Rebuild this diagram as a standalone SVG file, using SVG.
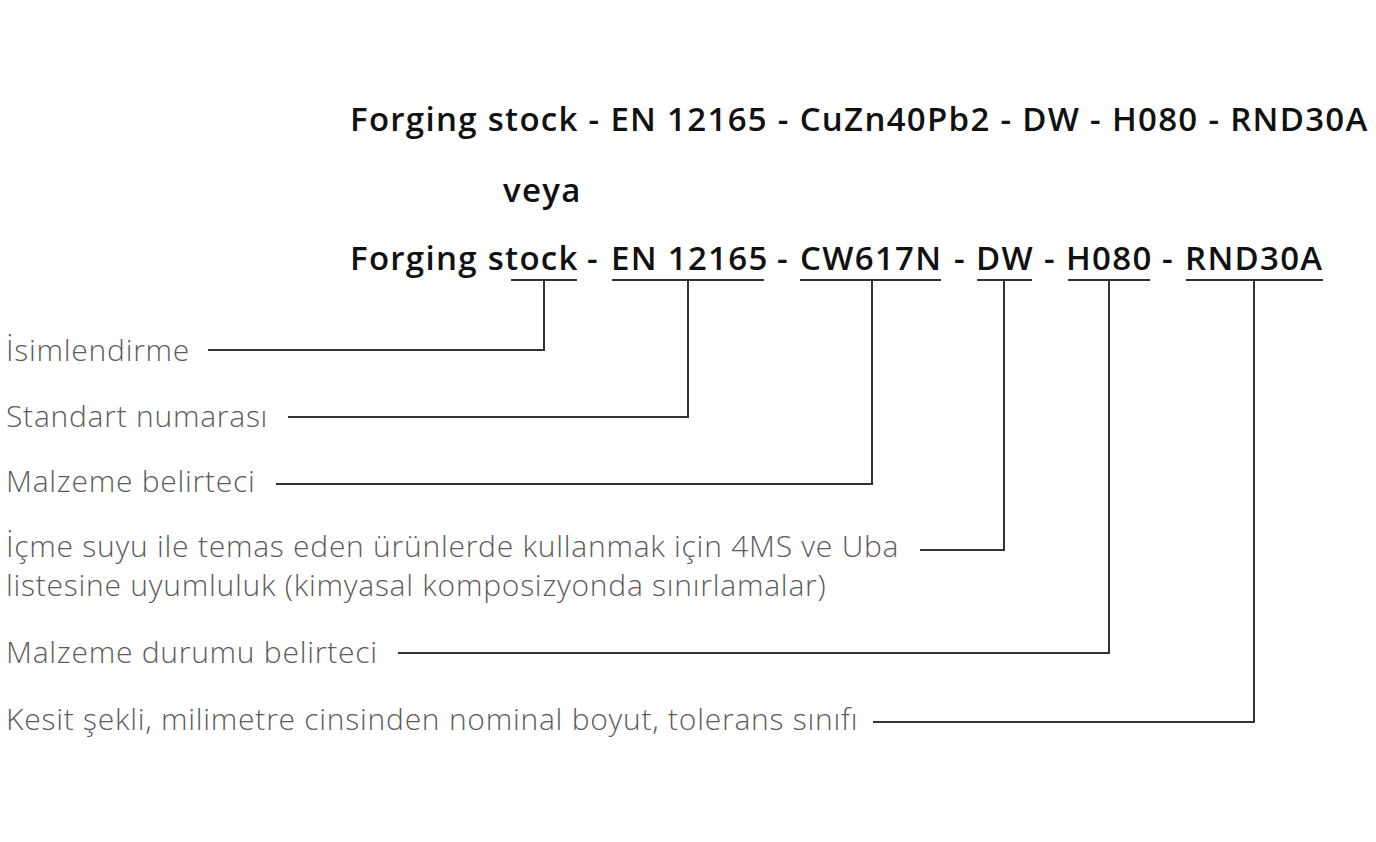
<svg xmlns="http://www.w3.org/2000/svg" width="1376" height="842" viewBox="0 0 1376 842">
<style>
.h{font-family:"Open Sans","Noto Sans",sans-serif;font-weight:600;font-size:33px;letter-spacing:1.3px;fill:#111}
.l{font-family:"Open Sans","Noto Sans",sans-serif;font-weight:300;font-size:30px;letter-spacing:0.75px;fill:#5c5c5c}
.c{fill:none;stroke:#333;stroke-width:2}
</style>
<rect width="1376" height="842" fill="#fff"/>
<g id="title">
<text class="h" x="350" y="131">Forging stock - EN 12165 - CuZn40Pb2 - DW - H080 - RND30A</text>
<text class="h" x="503" y="202">veya</text>
<text class="h" y="270"><tspan x="350">Forging stock</tspan><tspan x="587">-</tspan><tspan x="611">EN 12165</tspan><tspan x="777">-</tspan><tspan x="800">CW617N</tspan><tspan x="954">-</tspan><tspan x="976">DW</tspan><tspan x="1044">-</tspan><tspan x="1066">H080</tspan><tspan x="1162">-</tspan><tspan x="1185">RND30A</tspan></text>
</g>
<g id="label-isim"><text class="l" x="6" y="361">İsimlendirme</text></g>
<g id="label-standart"><text class="l" x="6" y="427">Standart numarası</text></g>
<g id="label-malzeme"><text class="l" x="6" y="492">Malzeme belirteci</text></g>
<g id="label-icme"><text class="l" x="6" y="557">İçme suyu ile temas eden ürünlerde kullanmak için 4MS ve Uba</text><text class="l" x="6" y="596">listesine uyumluluk (kimyasal komposizyonda sınırlamalar)</text></g>
<g id="label-durum"><text class="l" x="6" y="663">Malzeme durumu belirteci</text></g>
<g id="label-kesit"><text class="l" x="6" y="730">Kesit şekli, milimetre cinsinden nominal boyut, tolerans sınıfı</text></g>
<g id="connectors">
<line class="c" x1="511" y1="280" x2="577" y2="280"/>
<polyline class="c" points="544,280 544,350 208,350"/>
<line class="c" x1="612" y1="280" x2="764" y2="280"/>
<polyline class="c" points="688,280 688,417 288,417"/>
<line class="c" x1="800" y1="280" x2="941" y2="280"/>
<polyline class="c" points="872,280 872,484 276,484"/>
<line class="c" x1="977" y1="280" x2="1032" y2="280"/>
<polyline class="c" points="1004,280 1004,550 920,550"/>
<line class="c" x1="1068" y1="280" x2="1150" y2="280"/>
<polyline class="c" points="1109,280 1109,653 398,653"/>
<line class="c" x1="1186" y1="280" x2="1323" y2="280"/>
<polyline class="c" points="1254,280 1254,722 873,722"/>
</g>
</svg>
